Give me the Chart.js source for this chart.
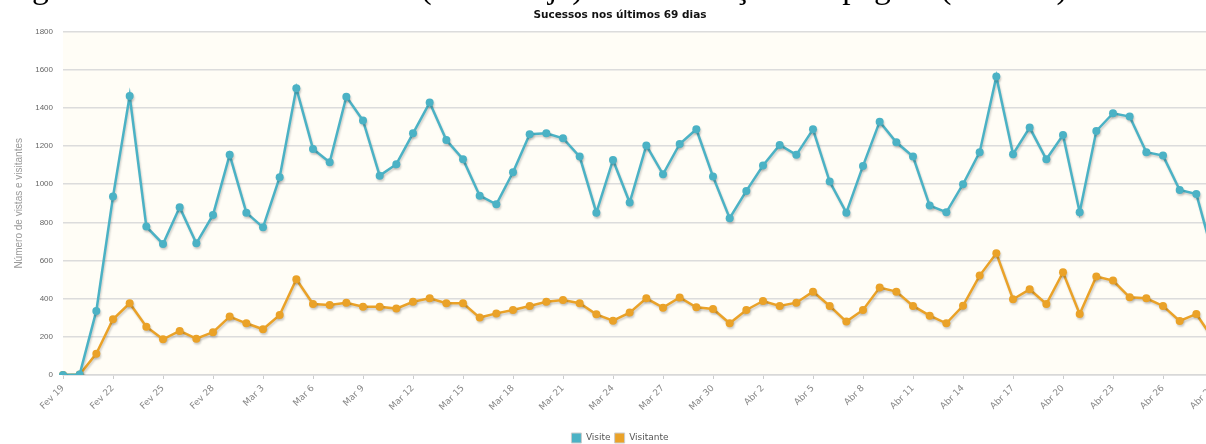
<!DOCTYPE html>
<html lang="pt">
<head>
<meta charset="utf-8">
<title>Sucessos nos últimos 69 dias</title>
<script src="https://cdn.jsdelivr.net/npm/chart.js@4.4.1/dist/chart.umd.min.js"></script>
<style>
    html, body { margin: 0; padding: 0; background: #fff; }
    #quadro { position: relative; width: 1206px; height: 444px; overflow: hidden; }
    #grafico { position: absolute; left: 0; top: 0; }
    #legenda {
        position: absolute; left: 4px; top: -24px;
        font-family: "Liberation Serif", serif; font-size: 27px;
        line-height: 1; white-space: nowrap; color: #000;
    }
</style>
</head>
<body>
<div id="quadro">
    <canvas id="grafico" width="1240" height="453"></canvas>
    <div id="legenda">Figura 1: Gráfico de visitantes (em laranja) e visualizações de página (em azul)</div>
</div>
<script>
// Dias (categorias do eixo x)
const dias = [
    'Fev 19', 'Fev 20', 'Fev 21', 'Fev 22', 'Fev 23', 'Fev 24', 'Fev 25', 'Fev 26', 'Fev 27', 'Fev 28',
    'Mar 1', 'Mar 2', 'Mar 3', 'Mar 4', 'Mar 5', 'Mar 6', 'Mar 7', 'Mar 8', 'Mar 9', 'Mar 10',
    'Mar 11', 'Mar 12', 'Mar 13', 'Mar 14', 'Mar 15', 'Mar 16', 'Mar 17', 'Mar 18', 'Mar 19', 'Mar 20',
    'Mar 21', 'Mar 22', 'Mar 23', 'Mar 24', 'Mar 25', 'Mar 26', 'Mar 27', 'Mar 28', 'Mar 29', 'Mar 30',
    'Mar 31', 'Abr 1', 'Abr 2', 'Abr 3', 'Abr 4', 'Abr 5', 'Abr 6', 'Abr 7', 'Abr 8', 'Abr 9',
    'Abr 10', 'Abr 11', 'Abr 12', 'Abr 13', 'Abr 14', 'Abr 15', 'Abr 16', 'Abr 17', 'Abr 18', 'Abr 19',
    'Abr 20', 'Abr 21', 'Abr 22', 'Abr 23', 'Abr 24', 'Abr 25', 'Abr 26', 'Abr 27', 'Abr 28', 'Abr 29'
];

// Visualizações de página (azul)
const visite = [
    0, 3, 336, 935, 1463, 778, 687, 879, 690, 839,
    1154, 851, 774, 1037, 1503, 1185, 1115, 1459, 1334, 1045,
    1105, 1267, 1428, 1232, 1131, 940, 895, 1063, 1262, 1267,
    1241, 1145, 851, 1127, 904, 1203, 1052, 1211, 1288, 1040,
    822, 965, 1098, 1206, 1154, 1288, 1014, 851, 1096, 1328,
    1220, 1145, 888, 853, 1000, 1168, 1564, 1157, 1297, 1131,
    1258, 853, 1279, 1372, 1355, 1168, 1150, 970, 949, 630
];

// Visitantes (laranja)
const visitante = [
    0, 2, 112, 292, 376, 253, 187, 231, 190, 224,
    306, 271, 240, 315, 502, 372, 367, 379, 358, 358,
    348, 384, 402, 376, 376, 301, 323, 341, 362, 384,
    393, 376, 318, 285, 327, 402, 353, 406, 355, 346,
    271, 341, 388, 362, 379, 437, 362, 280, 341, 458,
    437, 362, 311, 271, 363, 521, 638, 397, 449, 372,
    538, 320, 516, 495, 407, 402, 362, 283, 320, 190
];

// Marcas do eixo y
const marcasY = [0, 200, 400, 600, 800, 1000, 1200, 1400, 1600, 1800];

// Legenda da figura (texto cortado no topo)
const legenda = document.getElementById('legenda');
const medida = document.createElement('canvas').getContext('2d');
medida.font = '100px "Liberation Serif"';
const tamanho = 100 * 1064 / medida.measureText(legenda.textContent).width;
legenda.style.fontSize = tamanho + 'px';
legenda.style.top = (-1.5 - 0.8375 * tamanho) + 'px';

// Fundo creme da área do gráfico
const fundo = {
    id: 'fundo',
    beforeDraw(chart) {
        const { ctx, chartArea: a } = chart;
        ctx.save();
        ctx.fillStyle = '#fffdf6';
        ctx.fillRect(a.left, a.top, a.right - a.left, a.bottom - a.top);
        ctx.restore();
    }
};

// Sombra leve sob as linhas
const sombra = {
    id: 'sombra',
    beforeDatasetDraw(chart) {
        const ctx = chart.ctx;
        ctx.save();
        ctx.shadowColor = 'rgba(0, 0, 0, 0.18)';
        ctx.shadowOffsetX = 1;
        ctx.shadowOffsetY = 2;
        ctx.shadowBlur = 2;
    },
    afterDatasetDraw(chart) {
        chart.ctx.restore();
    }
};

const ctx = document.getElementById('grafico').getContext('2d');
const grafico = new Chart(ctx, {
    type: 'line',
    data: {
        labels: dias,
        datasets: [{
            label: 'Visite',
            data: visite,
            borderColor: '#4bb2c5',
            backgroundColor: '#4bb2c5'
        }, {
            label: 'Visitante',
            data: visitante,
            borderColor: '#eaa228',
            backgroundColor: '#eaa228'
        }]
    },
    options: {
        responsive: false,
        animation: false,
        devicePixelRatio: 1,
        layout: { padding: 0 },
        elements: {
            line: { borderWidth: 2.5, tension: 0 },
            point: { radius: 4, hoverRadius: 4, borderWidth: 0 }
        },
        plugins: {
            title: {
                display: true,
                text: 'Sucessos nos últimos 69 dias',
                color: '#111',
                font: { family: 'DejaVu Sans', size: 10.5, weight: 'bold' },
                padding: { top: 9, bottom: 10 }
            },
            legend: {
                position: 'bottom',
                labels: {
                    boxWidth: 10,
                    boxHeight: 10,
                    padding: 4,
                    color: '#555',
                    font: { family: 'DejaVu Sans', size: 9 },
                    generateLabels(chart) {
                        return chart.data.datasets.map((ds, i) => ({
                            text: ds.label,
                            fillStyle: ds.borderColor,
                            strokeStyle: '#cccccc',
                            lineWidth: 1,
                            fontColor: '#555',
                            datasetIndex: i
                        }));
                    }
                }
            },
            tooltip: { enabled: false }
        },
        scales: {
            x: {
                offset: false,
                grid: { drawOnChartArea: false, drawTicks: true, tickLength: 4, color: '#cccccc' },
                border: { color: '#d8d8d8', width: 1.5 },
                ticks: {
                    autoSkip: false,
                    maxRotation: 45,
                    minRotation: 45,
                    padding: 4,
                    color: '#888',
                    font: { family: 'DejaVu Sans', size: 9 },
                    callback: function(valor, i) {
                        return i % 3 === 0 ? this.getLabelForValue(valor) : null;
                    }
                },
                afterFit(escala) {
                    escala.height = 54;
                    escala.paddingRight = 27;
                }
            },
            y: {
                min: 0,
                max: 1800,
                afterBuildTicks(escala) { escala.ticks = marcasY.map(v => ({ value: v })); },
                grid: { color: '#dcdcdc', lineWidth: 1.5, drawTicks: false },
                border: { display: false },
                ticks: {
                    padding: 10,
                    color: '#666',
                    font: { family: 'Liberation Sans', size: 8 },
                    callback: (valor) => String(valor)
                },
                title: {
                    display: true,
                    text: 'Número de vistas e visitantes',
                    color: '#999',
                    font: { family: 'Liberation Sans', size: 10 },
                    padding: { top: 13, bottom: 0 }
                },
                afterFit(escala) { escala.width = 63; }
            }
        }
    },
    plugins: [fundo, sombra]
});
</script>
</body>
</html>
